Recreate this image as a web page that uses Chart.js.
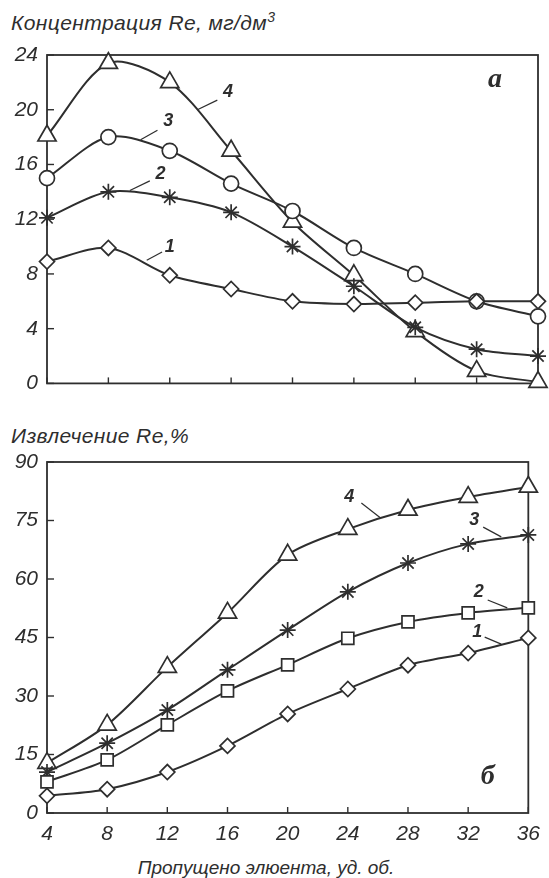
<!DOCTYPE html>
<html>
<head>
<meta charset="utf-8">
<script src="https://cdn.jsdelivr.net/npm/chart.js@4.4.0/dist/chart.umd.min.js"></script>
<style>
    body { margin: 0; background: #fff; width: 549px; height: 878px; position: relative; overflow: hidden;
           font-family: "Liberation Sans", Arial, sans-serif; color: #2e2e2e; }
    .ttl { position: absolute; font-style: italic; font-size: 21px; letter-spacing: 0.4px; white-space: nowrap; line-height: 22px; }
    .ttl sup { font-size: 14px; line-height: 0; }
    #wrap1 { position: absolute; left: 0; top: 0; width: 549px; height: 405px; }
    #wrap2 { position: absolute; left: 0; top: 405px; width: 549px; height: 473px; }
</style>
</head>
<body>
<div class="ttl" style="left:11px;top:12px">Концентрация Re, мг/дм<sup>3</sup></div>
<div class="ttl" style="left:11px;top:425px">Извлечение Re,%</div>
<div class="ttl" style="left:0;width:532px;text-align:center;top:857px;font-size:19px;letter-spacing:0">Пропущено элюента, уд. об.</div>
<div id="wrap1"><canvas id="concChart" width="549" height="405"></canvas></div>
<div id="wrap2"><canvas id="extrChart" width="549" height="473"></canvas></div>

<script>
// общие значения по оси X (пропущено элюента, уд. об.)
const xVals = [4, 8, 12, 16, 20, 24, 28, 32, 36];

// а) концентрация Re, мг/дм3
const conc1 = [8.9, 9.9, 7.9, 6.9, 6.0, 5.8, 5.9, 6.0, 6.0];
const conc2 = [12.1, 14.0, 13.6, 12.5, 10.0, 7.1, 4.1, 2.5, 2.0];
const conc3 = [15.0, 18.0, 17.0, 14.6, 12.6, 9.9, 8.0, 6.0, 4.9];
const conc4 = [18.1, 23.4, 22.0, 17.0, 11.8, 7.9, 3.8, 0.9, 0.1];

// б) извлечение Re, %
const extr1 = [4.4, 6.1, 10.5, 17.2, 25.4, 31.8, 37.9, 41.0, 44.9];
const extr2 = [8.0, 13.6, 22.6, 31.3, 38.0, 44.8, 49.0, 51.3, 52.6];
const extr3 = [10.5, 17.9, 26.4, 36.7, 46.9, 56.7, 64.1, 69.0, 71.3];
const extr4 = [12.8, 22.6, 37.4, 51.3, 66.2, 72.8, 77.7, 81.0, 83.6];

// номера кривых и выноски (в единицах осей)
const curveNames = ["1", "2", "3", "4"];
const concLabelPos = [[12.0, 10.0], [11.4, 15.3], [11.9, 19.2], [15.8, 21.3]];
const concLeaders = [[11.5, 9.6, 10.5, 9.0], [10.7, 14.8, 9.4, 14.1], [11.2, 18.5, 10.1, 17.8], [15.1, 20.7, 13.8, 20.0]];
const extrLabelPos = [[32.6, 46.4], [32.7, 56.7], [32.4, 75.1], [24.1, 81.0]];
const extrLeaders = [[33.1, 45.1, 34.2, 43.3], [33.3, 54.6, 34.6, 52.6], [33.0, 73.3, 34.2, 70.8], [24.9, 79.5, 26.2, 75.6]];

const ink = "#2e2e2e";
const tickFont = { family: "'Liberation Sans', Arial, sans-serif", size: 21, style: "italic" };

function makeSets(series, styles) {
    return series.map((vals, i) => ({
        data: xVals.map((x, j) => ({ x: x, y: vals[j] })),
        borderColor: ink,
        borderWidth: 2,
        tension: 0.3,
        clip: false,
        pointStyle: styles[i],
        pointRadius: styles[i] === "triangle" ? 10.5 : styles[i] === "rect" ? 8.5 : styles[i] === "star" ? 8 : 7.5,
        pointBorderWidth: 1.7,
        pointBorderColor: ink,
        pointBackgroundColor: "#fff",
    }));
}

// рамка, внутренние засечки, номера кривых
const frameTicks = {
    id: "frameTicks",
    beforeDatasetsDraw(chart) {
        const { ctx, chartArea: a, scales } = chart;
        ctx.save();
        ctx.strokeStyle = ink;
        ctx.lineWidth = 1.8;
        ctx.strokeRect(a.left, a.top, a.right - a.left, a.bottom - a.top);
        ctx.lineWidth = 1.4;
        scales.y.ticks.forEach((t) => {
            const py = scales.y.getPixelForValue(t.value);
            ctx.beginPath(); ctx.moveTo(a.left, py); ctx.lineTo(a.left + 7, py); ctx.stroke();
        });
        scales.x.ticks.forEach((t) => {
            const px = scales.x.getPixelForValue(t.value);
            ctx.beginPath(); ctx.moveTo(px, a.bottom); ctx.lineTo(px, a.bottom - 6); ctx.stroke();
        });
        ctx.restore();
    },
    afterDatasetsDraw(chart, args, opts) {
        const { ctx, scales } = chart;
        const sx = (v) => scales.x.getPixelForValue(v);
        const sy = (v) => scales.y.getPixelForValue(v);
        ctx.save();
        ctx.strokeStyle = ink;
        ctx.fillStyle = ink;
        ctx.lineWidth = 1.2;
        ctx.textAlign = "center";
        ctx.textBaseline = "middle";
        ctx.font = "italic bold 18px 'Liberation Sans', Arial, sans-serif";
        opts.names.forEach((name, i) => {
            const l = opts.leaders[i];
            ctx.beginPath(); ctx.moveTo(sx(l[0]), sy(l[1])); ctx.lineTo(sx(l[2]), sy(l[3])); ctx.stroke();
            ctx.fillText(name, sx(opts.pos[i][0]), sy(opts.pos[i][1]));
        });
        ctx.font = "italic bold 28px 'Liberation Serif', 'Times New Roman', serif";
        ctx.fillText(opts.letter, sx(opts.letterPos[0]), sy(opts.letterPos[1]));
        ctx.restore();
    },
};

const concChart = new Chart(document.getElementById("concChart").getContext("2d"), {
    type: "line",
    data: { datasets: makeSets([conc1, conc2, conc3, conc4], ["rectRot", "star", "circle", "triangle"]) },
    options: {
        responsive: false,
        animation: false,
        layout: { autoPadding: false, padding: { left: 0, right: 11, top: 55, bottom: 12 } },
        plugins: {
            legend: { display: false },
            tooltip: { enabled: false },
            frameTicks: { names: curveNames, pos: concLabelPos, leaders: concLeaders, letter: "a", letterPos: [33.2, 22.2] },
        },
        scales: {
            x: {
                type: "linear", min: 4, max: 36,
                ticks: { display: false, stepSize: 4 },
                grid: { display: false, drawTicks: false },
                border: { display: false },
                afterFit(s) { s.height = 0; },
            },
            y: {
                min: 0, max: 24,
                ticks: { stepSize: 4, padding: 9, font: tickFont, color: ink },
                grid: { display: false, drawTicks: false },
                border: { display: false },
                afterFit(s) { s.width = 47; },
            },
        },
    },
    plugins: [frameTicks],
});

const extrChart = new Chart(document.getElementById("extrChart").getContext("2d"), {
    type: "line",
    data: { datasets: makeSets([extr1, extr2, extr3, extr4], ["rectRot", "rect", "star", "triangle"]) },
    options: {
        responsive: false,
        animation: false,
        layout: { autoPadding: false, padding: { left: 0, right: 11, top: 57, bottom: 0 } },
        plugins: {
            legend: { display: false },
            tooltip: { enabled: false },
            frameTicks: { names: curveNames, pos: extrLabelPos, leaders: extrLeaders, letter: "б", letterPos: [33.3, 9.2] },
        },
        scales: {
            x: {
                type: "linear", min: 4, max: 36,
                ticks: { stepSize: 4, padding: 9, font: tickFont, color: ink, maxRotation: 0 },
                grid: { display: false, drawTicks: false },
                border: { display: false },
                afterFit(s) { s.height = 65; },
            },
            y: {
                min: 0, max: 90,
                ticks: { stepSize: 15, padding: 9, font: tickFont, color: ink },
                grid: { display: false, drawTicks: false },
                border: { display: false },
                afterFit(s) { s.width = 47; },
            },
        },
    },
    plugins: [frameTicks],
});
</script>
</body>
</html>
